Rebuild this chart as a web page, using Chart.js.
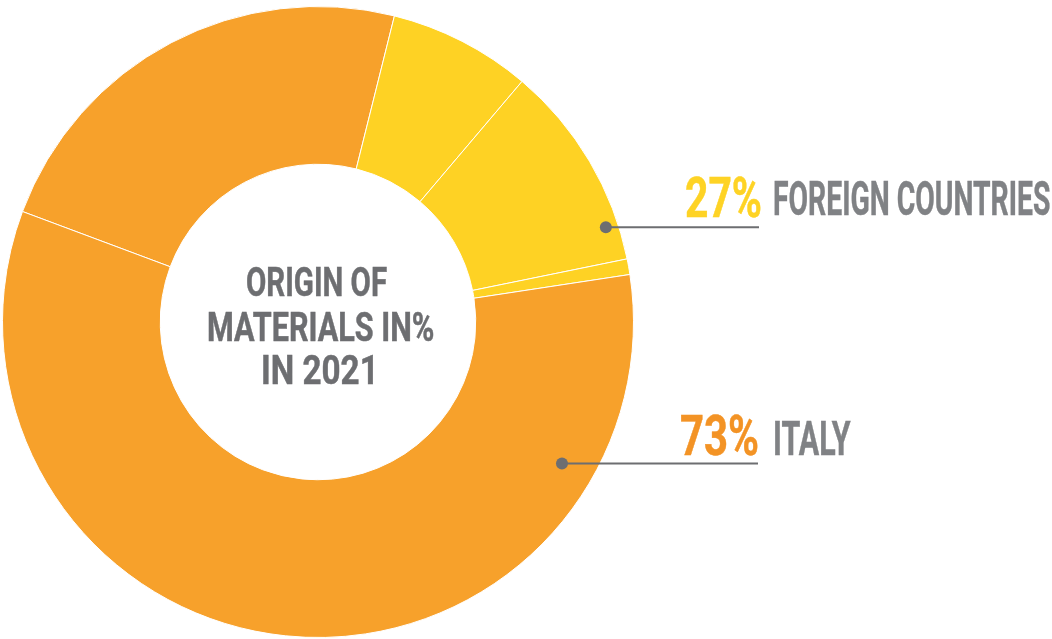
<!DOCTYPE html>
<html><head><meta charset="utf-8">
<script src="https://cdn.jsdelivr.net/npm/chart.js@4.4.0/dist/chart.umd.min.js"></script>
<style>
html,body{margin:0;padding:0;background:#fff;}
#wrap{position:relative;width:1052px;height:639px;overflow:hidden;}
#chart{position:absolute;left:0;top:0;}
.lbl{position:absolute;white-space:nowrap;font-family:Roboto,"Liberation Sans",sans-serif;font-weight:700;line-height:1;transform-origin:0 0;-webkit-text-stroke:0.5px currentColor;}
</style></head><body>
<div id="wrap"><canvas id="chart" width="1052" height="639"></canvas></div>
<script>
// ---- data ----
const sliceLabels = ['Italy (a)', 'Foreign countries (a)', 'Foreign countries (b)', 'Foreign countries (c)', 'Italy (b)'];
const sliceValues = [23.2, 7.3, 10.6, 0.8, 58.1];
const sliceColors = ['#F7A12B', '#FED224', '#FED224', '#FED224', '#F7A12B'];
const legendPercents = ['27%', '73%'];
const legendNames = ['FOREIGN COUNTRIES', 'ITALY'];
const legendPercentColors = ['#FED325', '#F39325'];
const centerLines = ['ORIGIN OF', 'MATERIALS IN%', 'IN 2021'];

const GRAY = '#6d6e71';
const LABEL_GRAY = '#808285';

// leader dots: angle (deg clockwise from top) and radius, line end x
const leaders = [
  {angle: 71.8, r: 303, endX: 759},
  {angle: 120.1, r: 282, endX: 758}
];

const leaderPlugin = {
  id: 'leaders',
  afterDraw(chart) {
    const arc = chart.getDatasetMeta(0).data[0];
    const cx = arc.x, cy = arc.y;
    const ctx = chart.ctx;
    ctx.save();
    leaders.forEach(l => {
      const a = l.angle * Math.PI / 180;
      const x = cx + l.r * Math.sin(a);
      const y = cy - l.r * Math.cos(a);
      ctx.strokeStyle = GRAY;
      ctx.lineWidth = 2;
      ctx.beginPath();
      ctx.moveTo(x, y);
      ctx.lineTo(l.endX, y);
      ctx.stroke();
      ctx.fillStyle = GRAY;
      ctx.beginPath();
      ctx.arc(x, y, 6, 0, Math.PI * 2);
      ctx.fill();
    });
    ctx.restore();
  }
};

const chart = new Chart(document.getElementById('chart'), {
  type: 'doughnut',
  data: {
    labels: sliceLabels,
    datasets: [{
      data: sliceValues,
      backgroundColor: sliceColors,
      borderColor: '#ffffff',
      borderWidth: 1,
      hoverOffset: 0
    }]
  },
  options: {
    responsive: false,
    animation: false,
    events: [],
    rotation: 290.5,
    cutout: '50%',
    layout: {padding: {left: 2, top: 6, right: 418, bottom: 1}},
    plugins: {legend: {display: false}, tooltip: {enabled: false}}
  },
  plugins: [leaderPlugin]
});

// ---- text labels (real DOM text) ----
const wrap = document.getElementById('wrap');
const mctx = document.createElement('canvas').getContext('2d');
function place(text, size, color, capTop, left, right, center) {
  const el = document.createElement('div');
  el.className = 'lbl';
  el.textContent = text;
  el.style.fontSize = size + 'px';
  el.style.color = color;
  mctx.font = '700 ' + size + 'px Roboto, "Liberation Sans", sans-serif';
  const m = mctx.measureText(text);
  const inkStart = -m.actualBoundingBoxLeft;
  const inkEnd = m.actualBoundingBoxRight;
  const s = (right - left) / (inkEnd - inkStart);
  const fA = m.fontBoundingBoxAscent || size * 0.928;
  const fD = m.fontBoundingBoxDescent || size * 0.244;
  const baseOff = (size - (fA + fD)) / 2 + fA;
  const top = capTop - (baseOff - m.actualBoundingBoxAscent);
  el.style.left = (left - s * inkStart) + 'px';
  el.style.top = top + 'px';
  el.style.transform = 'scaleX(' + s + ')';
  wrap.appendChild(el);
}
function layoutText() {
  place(legendPercents[0], 55, legendPercentColors[0], 176, 686, 761);
  place(legendNames[0], 49, LABEL_GRAY, 180.7, 775, 1050);
  place(legendPercents[1], 55, legendPercentColors[1], 414, 681, 758);
  place(legendNames[1], 49, LABEL_GRAY, 420.7, 775, 851);
  place(centerLines[0], 41, GRAY, 267, 247, 387);
  place(centerLines[1], 41, GRAY, 312, 208, 433);
  place(centerLines[2], 41, GRAY, 355, 263, 373);
}
if (document.fonts && document.fonts.load) {
  Promise.all([document.fonts.load('700 49px Roboto')]).then(layoutText, layoutText);
} else { layoutText(); }
</script>
</body></html>
